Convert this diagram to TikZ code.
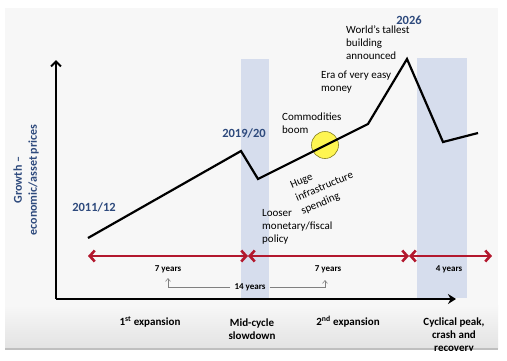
\documentclass[tikz,border=0pt]{standalone}
\usepackage{fontspec}
\setmainfont{Carlito}
\usetikzlibrary{arrows.meta,shadings}
\definecolor{bandblue}{HTML}{D6DDED}
\definecolor{yearblue}{HTML}{2E4A7D}
\definecolor{darkred}{HTML}{B3182E}
\definecolor{bggray}{HTML}{F7F7F7}
\tikzset{
  lbl/.style={font=\fontsize{11}{13}\selectfont, align=left, inner sep=0pt},
  yearlbl/.style={font=\fontsize{12.5}{14}\selectfont\bfseries, text=yearblue, inner sep=0pt},
  phase/.style={font=\fontsize{11}{13}\selectfont\bfseries, align=center, inner sep=0pt},
  dur/.style={font=\fontsize{9}{11}\selectfont\bfseries, inner sep=0pt},
  band/.style={fill=bandblue, draw=none},
  redarr/.style={draw=darkred, line width=2.6pt, {Straight Barb[length=5pt,width=11pt]}-{Straight Barb[length=5pt,width=11pt]}},
  grayarr/.style={draw=gray, line width=0.6pt, -{Straight Barb[length=3pt,width=5pt]}},
  axis/.style={draw=black, line width=2pt},
  trend/.style={draw=black, line width=2.2pt, line join=miter}
}
\begin{document}
\begin{tikzpicture}[x=1pt,y=-1pt]
\useasboundingbox (0,0) rectangle (507,360);
\fill[white] (0,0) rectangle (507,360);
% background panel
\fill[bggray] (5,8) rectangle (498,305);
\shade[top color=bggray, bottom color=gray!22] (5,305) rectangle (498,348);
\fill[gray!50] (5,348) rectangle (498,350);
% bands
\fill[band] (241,59) rectangle (269,298);
\fill[band] (417,58) rectangle (467,298);
% axes
\coordinate (O) at (56,299);
\coordinate (Ytop) at (56,60);
\coordinate (Xend) at (456,299);
\draw[axis, -{Straight Barb[length=5pt,width=10pt]}] (O) -- (Ytop);
\draw[axis, -{Stealth[length=8pt,width=10pt]}] (O) -- (Xend);
% trend line
\coordinate (p0) at (88,238);
\coordinate (p1) at (241,151);
\coordinate (p2) at (258,179);
\coordinate (p3) at (368,124);
\coordinate (p4) at (407,59);
\coordinate (p5) at (443,142);
\coordinate (p6) at (478,133);
\node[circle, minimum size=27pt, fill=yellow!75, draw=olive!80!black, line width=0.6pt, inner sep=0pt, opacity=0.9] (boom) at (325,145) {};
\draw[trend] (p0) -- (p1) -- (p2) -- (p3) -- (p4) -- (p5) -- (p6);
% red duration arrows
\coordinate (r0) at (88,256);
\coordinate (r1) at (248,256);
\coordinate (r2) at (409,256);
\coordinate (r3) at (492,256);
\draw[redarr] (r0) -- (r1);
\draw[redarr] (r1) -- (r2);
\draw[redarr] (r2) -- (r3);
% duration labels
\node[dur] (d1) at (168,269) {7 years};
\node[dur] (d2) at (328,269) {7 years};
\node[dur] (d3) at (449,269) {4 years};
\node[dur] (d14) at (250,287) {14 years};
\coordinate (g1) at (168,287);
\coordinate (g2) at (325,287);
\draw[grayarr] (d14.west) ++(-4,0) -- (g1) -- (168,278);
\draw[grayarr] (d14.east) ++(4,0) -- (g2) -- (325,280);
% year labels
\node[yearlbl] (y1) at (94,207) {2011/12};
\node[yearlbl] (y2) at (244,133) {2019/20};
\node[yearlbl] (y3) at (409,20) {2026};
% annotations
\node[lbl, anchor=north west] (tall) at (346,26) {World's tallest\\building\\announced};
\node[lbl, anchor=north west] (easy) at (321,71) {Era of very easy\\money};
\node[lbl, anchor=north west] (comm) at (282,113) {Commodities\\boom};
\node[font=\fontsize{11}{14}\selectfont, align=left, inner sep=0pt, rotate=23, anchor=north west] (huge) at (289,182) {Huge\\infrastructure\\spending};
\node[lbl, anchor=north west] (loose) at (262,209) {Looser\\monetary/fiscal\\policy};
% axis label
\node[font=\fontsize{12}{15}\selectfont\bfseries, text=yearblue, align=center, rotate=90, inner sep=0pt] (ylab) at (26,180) {Growth --\\economic/asset prices};
% phase labels
\begin{scope}
\clip (0,0) rectangle (507,350);
\node[phase] (ph1) at (150,322) {1\textsuperscript{st} expansion};
\node[phase, anchor=north] (ph2) at (252,319) {Mid-cycle\\slowdown};
\node[phase] (ph3) at (348,322) {2\textsuperscript{nd} expansion};
\node[phase, anchor=north] (ph4) at (454,318) {Cyclical peak,\\crash and\\recovery};
\end{scope}
\end{tikzpicture}
\end{document}
